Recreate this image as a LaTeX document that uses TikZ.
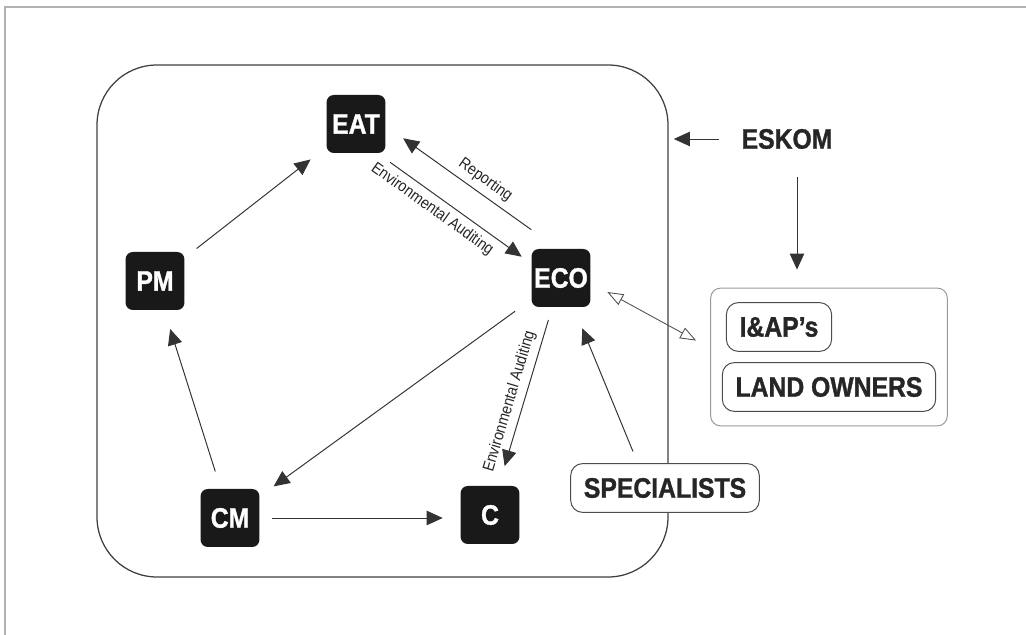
\documentclass[tikz,border=0pt]{standalone}
\usepackage{fontspec}
\setmainfont{Liberation Sans}[FakeStretch=0.88,BoldFeatures={FakeBold=1.2}]
\usetikzlibrary{arrows.meta,fit}

\tikzset{
	actor/.style={fill=black!90,text=white,rounded corners=0.18cm,minimum width=1.47cm,minimum height=1.45cm,inner sep=0pt,font=\fontsize{20}{24}\selectfont\bfseries},
	party/.style={draw=black!70,line width=0.7pt,fill=white,rounded corners=0.3cm,minimum height=1.22cm,inner xsep=0.33cm,text=black!85,font=\fontsize{20}{24}\selectfont\bfseries},
	flow/.style={-{Triangle[length=0.4cm,width=0.36cm]},line width=0.7pt,black!80},
	talk/.style={{Triangle[open,length=0.4cm,width=0.3cm]}-{Triangle[open,length=0.4cm,width=0.3cm]},line width=0.6pt,black!70},
	note/.style={font=\fontsize{11.5}{13}\selectfont,text=black!85,sloped,inner sep=4pt}
}

\begin{document}
\begin{tikzpicture}
	\useasboundingbox (0,0) rectangle (25.65,15.875);
	\draw[gray!60,line width=1.4pt] (0.125,0) -- (0.125,15.7) -- (25.65,15.7);
	\node[draw=black!75,line width=0.9pt,rounded corners=1.5cm,minimum width=14.275cm,minimum height=12.8cm,inner sep=0pt] (site) at (9.5625,7.85) {};
	\node[actor] (EAT) at (8.9,12.775) {EAT};
	\node[actor] (PM) at (3.875,8.85) {PM};
	\node[actor] (ECO) at (14.025,8.925) {ECO};
	\node[actor] (CM) at (5.75,2.925) {CM};
	\node[actor] (C) at (12.25,3.0) {C};
	\node[inner sep=0.1cm,text=black!85,font=\fontsize{20}{24}\selectfont\bfseries] (ESKOM) at (19.675,12.4) {ESKOM};
	\node[party] (IAP) at (19.475,7.7) {I\&AP’s};
	\node[party] (LAND) at (20.725,6.2) {LAND OWNERS};
	\node[draw=black!40,line width=0.7pt,rounded corners=0.25cm,fit=(IAP)(LAND),inner xsep=0.28cm,inner ysep=0.35cm] (group) {};
	\node[party] (SPEC) at (16.625,3.675) {SPECIALISTS};
	\draw[flow,shorten <=0.38cm,shorten >=0.5cm] (PM) -- (EAT);
	\draw[flow,shorten <=0.45cm,shorten >=0.49cm] (CM) -- (PM);
	\draw[flow,shorten <=0.31cm,shorten >=0.44cm] (CM.east) -- (CM.east -| C.west);
	\draw[flow,shorten <=0.5cm,shorten >=0.43cm] (ECO) -- (CM);
	\draw[flow,shorten <=0.33cm,shorten >=0.51cm] (ECO) -- (C) node[note,above,pos=0.55] {Environmental Auditing};
	\draw[flow] ([shift={(0,0.475)}]ECO.north west) -- ([shift={(0.435,0.375)}]EAT.south east) node[note,above,pos=0.42] {Reporting};
	\draw[flow] ([shift={(0.11,-0.225)}]EAT.south east) -- ([shift={(-0.24,-0.2)}]ECO.north west) node[note,below,pos=0.38] {Environmental Auditing};
	\draw[flow] ([shift={(-0.8,0.29)}]SPEC.north) -- ([shift={(-0.21,-0.525)}]ECO.south east);
	\draw[flow,shorten <=0.45cm,shorten >=0.13cm] (ESKOM.west) -- (ESKOM.west -| site.east);
	\draw[flow,shorten <=0.6cm,shorten >=0.45cm] ([xshift=0.25cm]ESKOM.south) -- ([xshift=0.25cm]ESKOM.south |- group.north);
	\draw[talk] ([shift={(0.415,-0.35)}]ECO.east) -- ([shift={(-0.35,0.41)}]group.west);
\end{tikzpicture}
\end{document}
